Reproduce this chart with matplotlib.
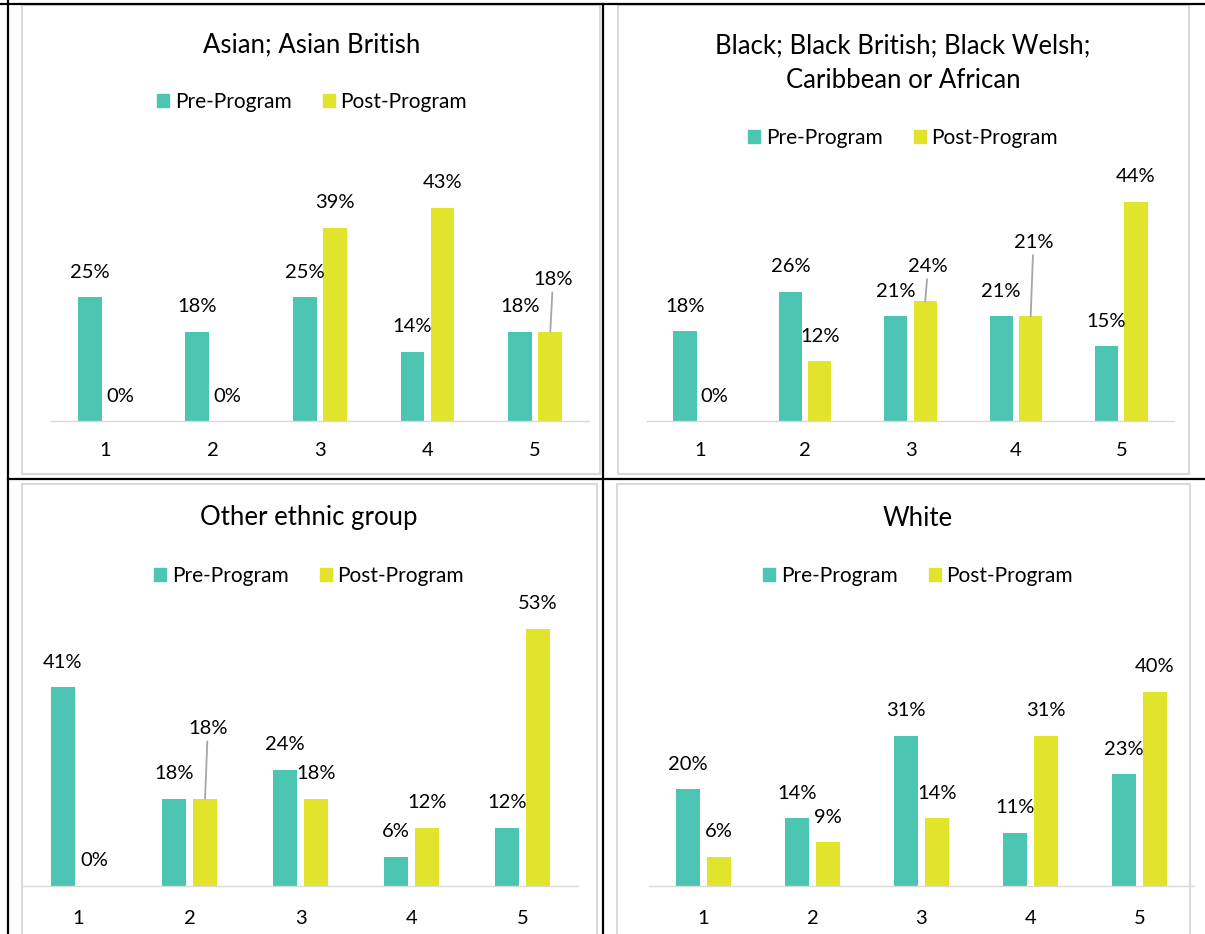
import matplotlib.pyplot as plt
from matplotlib.patches import Rectangle, Patch
from matplotlib.lines import Line2D

plt.rcParams['font.family'] = ['Lato', 'DejaVu Sans']

# data
categories = [1, 2, 3, 4, 5]
titles = ["Asian; Asian British",
          "Black; Black British; Black Welsh;\nCaribbean or African",
          "Other ethnic group",
          "White"]
pre_program = [
    [25, 18, 25, 14, 18],
    [18, 26, 21, 21, 15],
    [41, 18, 24, 6, 12],
    [20, 14, 31, 11, 23],
]
post_program = [
    [0, 0, 39, 43, 18],
    [0, 12, 24, 21, 44],
    [0, 18, 18, 12, 53],
    [6, 9, 14, 31, 40],
]
series_names = ["Pre-Program", "Post-Program"]

TEAL = "#4CC5B3"
YELLOW = "#E1E42A"
GRID = "#D9D9D9"
LEADER = "#A6A6A6"

W, H = 1205, 934
fig = plt.figure(figsize=(W / 100, H / 100), dpi=100)

# panel layout in pixels: axis left/right, baseline, px per %, title y, legend y, centre x
panels = [
    dict(left=51, right=589, base=421, scale=4.96, title_y=45, leg_y=102, cx=312, pad=15),
    dict(left=647, right=1174, base=421, scale=4.98, title_y=63, leg_y=138, cx=903, pad=15),
    dict(left=23, right=578, base=886, scale=4.85, title_y=518, leg_y=576, cx=309, pad=17),
    dict(left=649, right=1194, base=886, scale=4.85, title_y=518, leg_y=576, cx=918, pad=17),
]
# labels moved up by Excel, with a leader line: (panel, series, index) -> extra px
moved = {(0, 1, 4): 27, (1, 1, 2): 10, (1, 1, 3): 49, (2, 1, 1): 45}

YMAX = 60
bw, off = 0.22, 0.14
FS = 14.5

for p, spec in enumerate(panels):
    height = YMAX * spec['scale']
    ax = fig.add_axes([spec['left'] / W, 1 - spec['base'] / H,
                       (spec['right'] - spec['left']) / W, height / H])
    ax.set_xlim(0.5, 5.5)
    ax.set_ylim(0, YMAX)
    ax.patch.set_visible(False)
    for s in ['top', 'right', 'left']:
        ax.spines[s].set_visible(False)
    ax.spines['bottom'].set_color(GRID)
    ax.spines['bottom'].set_linewidth(1.0)
    ax.set_yticks([])
    ax.set_xticks(categories)
    ax.set_xticklabels([str(c) for c in categories], fontsize=FS)
    ax.tick_params(axis='x', length=0, pad=spec['pad'])

    for si, (vals, col) in enumerate([(pre_program[p], TEAL), (post_program[p], YELLOW)]):
        xs = [c + (off if si else -off) for c in categories]
        ax.bar(xs, vals, width=bw, color=col, zorder=2)
        for i, (x, v) in enumerate(zip(xs, vals)):
            extra = moved.get((p, si, i), 0)
            dy = (25 + extra) * 0.72
            if extra:
                ax.annotate(f"{v}%", xy=(x, v), xytext=(2, dy), textcoords='offset points',
                            ha='center', va='center', fontsize=FS,
                            arrowprops=dict(arrowstyle='-', color=LEADER, lw=1.3,
                                            shrinkA=1, shrinkB=0))
            else:
                ax.annotate(f"{v}%", xy=(x, v), xytext=(0, dy), textcoords='offset points',
                            ha='center', va='center', fontsize=FS)

    fig.text(spec['cx'] / W, 1 - spec['title_y'] / H, titles[p], ha='center', va='center',
             fontsize=18.5, linespacing=1.45)
    handles = [Patch(color=TEAL), Patch(color=YELLOW)]
    fig.legend(handles, series_names, loc='center', ncol=2, frameon=False,
               bbox_to_anchor=(spec['cx'] / W, 1 - spec['leg_y'] / H), fontsize=15,
               handlelength=0.6, handleheight=0.6, handletextpad=0.25, columnspacing=1.5)

# light grey chart frames
for x0, y0, x1, y1 in [(22, 5, 600, 474), (618, 5, 1189, 474), (22, 484, 597, 960), (617, 484, 1190, 960)]:
    fig.add_artist(Rectangle((x0 / W, 1 - y1 / H), (x1 - x0) / W, (y1 - y0) / H,
                             transform=fig.transFigure, fill=False, ec=GRID, lw=1.5))

# black table borders
for xs, ys in [([0, W], [4, 4]), ([8, W], [479, 479]), ([8, 8], [0, H]), ([603, 603], [4, H])]:
    fig.add_artist(Line2D([x / W for x in xs], [1 - y / H for y in ys],
                          transform=fig.transFigure, color='black', lw=1.6))

fig.savefig("out.png", dpi=100)
